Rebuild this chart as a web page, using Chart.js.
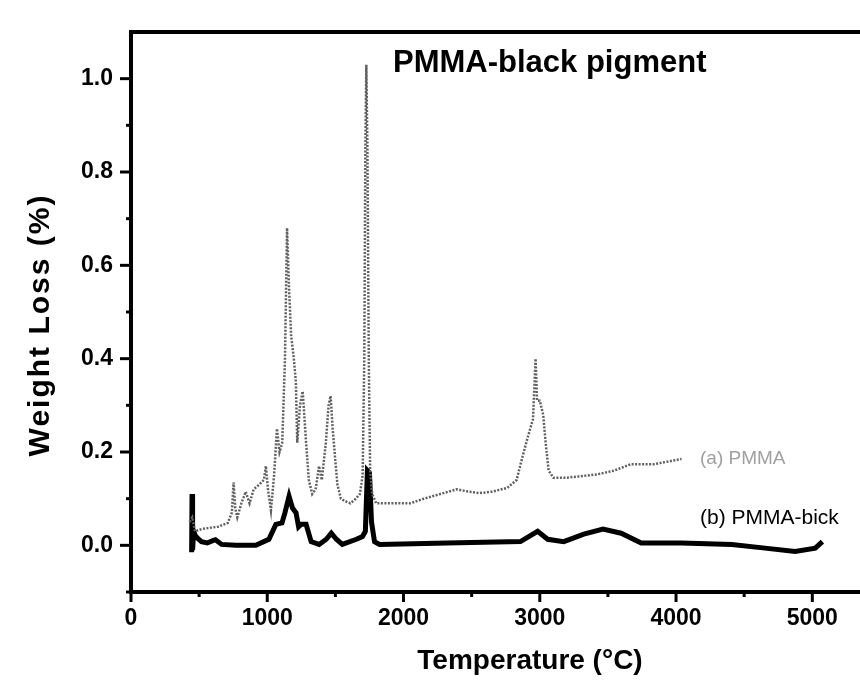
<!DOCTYPE html>
<html>
<head>
<meta charset="utf-8">
<script src="https://cdn.jsdelivr.net/npm/chart.js@4"></script>
<style>
    html, body { margin: 0; padding: 0; background: #fff; }
    #wrap { width: 860px; height: 681px; }
</style>
</head>
<body>
<div id="wrap"><canvas id="chart" width="860" height="681"></canvas></div>
<script>
// (a) PMMA - dotted trace
const tempA = [430, 450, 470, 520, 570, 640, 710, 740, 753, 765, 780, 810, 842, 870, 900, 940, 975, 990, 1005, 1027,
    1050, 1071, 1090, 1110, 1130, 1145, 1160, 1175, 1195, 1210, 1220, 1240, 1260, 1285, 1305, 1330, 1355, 1380, 1400,
    1430, 1450, 1465, 1480, 1500, 1515, 1540, 1570, 1610, 1650, 1680, 1700, 1712, 1720, 1727, 1735, 1745, 1755, 1770,
    1800, 1900, 2050, 2150, 2270, 2390, 2480, 2560, 2650, 2760, 2830, 2860, 2910, 2950, 2969, 2980, 3000, 3025, 3043,
    3065, 3100, 3200, 3300, 3420, 3545, 3670, 3840, 3950, 4040];
const lossA = [0.05, 0.06, 0.03, 0.035, 0.037, 0.04, 0.048, 0.07, 0.135, 0.08, 0.06, 0.09, 0.115, 0.09, 0.12, 0.13, 0.14, 0.17, 0.12, 0.075,
    0.15, 0.25, 0.20, 0.22, 0.40, 0.68, 0.55, 0.45, 0.40, 0.35, 0.22, 0.30, 0.33, 0.22, 0.14, 0.11, 0.12, 0.17, 0.14,
    0.22, 0.30, 0.32, 0.25, 0.18, 0.13, 0.10, 0.095, 0.09, 0.10, 0.11, 0.15, 0.40, 0.85, 1.03, 0.85, 0.40, 0.16, 0.11,
    0.09, 0.09, 0.09, 0.10, 0.11, 0.12, 0.115, 0.112, 0.115, 0.123, 0.14, 0.175, 0.23, 0.27, 0.40, 0.31, 0.31, 0.28, 0.22,
    0.16, 0.145, 0.145, 0.148, 0.152, 0.16, 0.174, 0.174, 0.18, 0.185];

// (b) PMMA-black - solid trace
const tempB = [445, 448, 452, 460, 473, 490, 517, 560, 600, 620, 665, 768, 916, 1012, 1063, 1108, 1130, 1160, 1185, 1211,
    1230, 1248, 1285, 1322, 1381, 1433, 1470, 1507, 1551, 1654, 1699, 1720, 1735, 1750, 1765, 1787, 1824, 2319, 2858,
    2984, 3058, 3176, 3323, 3464, 3597, 3744, 4040, 4409, 4653, 4874, 5022, 5074];
const lossB = [-0.015, 0.11, -0.01, 0.03, 0.02, 0.015, 0.008, 0.005, 0.01, 0.012, 0.002, 0.0, 0.0, 0.013, 0.045, 0.048, 0.07, 0.105, 0.08, 0.07,
    0.04, 0.045, 0.045, 0.008, 0.002, 0.013, 0.026, 0.013, 0.002, 0.013, 0.019, 0.03, 0.16, 0.155, 0.05, 0.008, 0.002, 0.005, 0.008,
    0.03, 0.013, 0.008, 0.024, 0.035, 0.026, 0.005, 0.005, 0.002, -0.006, -0.013, -0.006, 0.008];

const xTicks = [0, 1000, 2000, 3000, 4000, 5000];
const xMinor = [500, 1500, 2500, 3500, 4500];
const yTicks = [0.0, 0.2, 0.4, 0.6, 0.8, 1.0];
const yMinor = [-0.1, 0.1, 0.3, 0.5, 0.7, 0.9];

const FONT = "'Liberation Sans', Arial, sans-serif";

function toPoints(xs, ys) {
    return xs.map((x, i) => ({ x: x, y: ys[i] }));
}

// frame top line, tick marks and text labels
const decor = {
    id: 'decor',
    afterDraw(chart) {
        const ctx = chart.ctx;
        const { left, top, right, bottom } = chart.chartArea;
        const xs = chart.scales.x;
        const ys = chart.scales.y;
        ctx.save();
        ctx.strokeStyle = '#000';
        ctx.lineWidth = 4;
        ctx.beginPath();
        ctx.moveTo(left - 2, top);
        ctx.lineTo(right, top);
        ctx.stroke();

        ctx.lineWidth = 3;
        xTicks.forEach(v => {
            const p = xs.getPixelForValue(v);
            ctx.beginPath(); ctx.moveTo(p, bottom); ctx.lineTo(p, bottom + 10); ctx.stroke();
        });
        xMinor.forEach(v => {
            const p = xs.getPixelForValue(v);
            ctx.beginPath(); ctx.moveTo(p, bottom); ctx.lineTo(p, bottom + 5); ctx.stroke();
        });
        yTicks.forEach(v => {
            const p = ys.getPixelForValue(v);
            ctx.beginPath(); ctx.moveTo(left, p); ctx.lineTo(left - 11, p); ctx.stroke();
        });
        yMinor.forEach(v => {
            const p = ys.getPixelForValue(v);
            ctx.beginPath(); ctx.moveTo(left, p); ctx.lineTo(left - 5, p); ctx.stroke();
        });

        ctx.fillStyle = '#000';
        ctx.textBaseline = 'middle';
        ctx.font = 'bold 31px ' + FONT;
        ctx.textAlign = 'left';
        ctx.fillText('PMMA-black pigment', 393, 63);

        ctx.font = '21px ' + FONT;
        ctx.fillText('(b) PMMA-bick', 700, 518);
        ctx.fillStyle = '#a0a0a0';
        ctx.font = '19px ' + FONT;
        ctx.fillText('(a) PMMA', 700, 459);

        ctx.fillStyle = '#000';
        ctx.font = 'bold 28px ' + FONT;
        ctx.textAlign = 'center';
        ctx.fillText('Temperature (°C)', 530, 661);

        ctx.translate(41, 325);
        ctx.rotate(-Math.PI / 2);
        ctx.font = 'bold 30px ' + FONT;
        ctx.letterSpacing = '2px';
        ctx.fillText('Weight Loss (%)', 0, 0);
        ctx.restore();
    }
};

new Chart(document.getElementById('chart').getContext('2d'), {
    type: 'scatter',
    data: {
        datasets: [{
            label: '(a) PMMA',
            data: toPoints(tempA, lossA),
            showLine: true,
            borderColor: '#606060',
            borderWidth: 2.5,
            borderDash: [2, 1.5],
            pointRadius: 0,
            tension: 0
        }, {
            label: '(b) PMMA-black',
            data: toPoints(tempB, lossB),
            showLine: true,
            borderColor: '#000',
            borderWidth: 5,
            pointRadius: 0,
            tension: 0
        }]
    },
    options: {
        responsive: false,
        animation: false,
        layout: { padding: { top: 32, right: 0, left: 0, bottom: 0 } },
        plugins: {
            legend: { display: false },
            tooltip: { enabled: false }
        },
        scales: {
            x: {
                type: 'linear',
                min: 0,
                max: 5350,
                afterFit: s => { s.height = 89; },
                afterBuildTicks: s => { s.ticks = xTicks.map(v => ({ value: v })); },
                grid: { drawOnChartArea: false, drawTicks: false },
                border: { display: true, color: '#000', width: 4 },
                ticks: {
                    padding: 13,
                    color: '#000',
                    font: { family: FONT, size: 23, weight: 'bold' },
                    maxRotation: 0,
                    callback: v => String(v)
                }
            },
            y: {
                min: -0.1,
                max: 1.1,
                afterFit: s => { s.width = 131; },
                afterBuildTicks: s => { s.ticks = yTicks.map(v => ({ value: v })); },
                grid: { drawOnChartArea: false, drawTicks: false },
                border: { display: true, color: '#000', width: 4 },
                ticks: {
                    padding: 18,
                    color: '#000',
                    font: { family: FONT, size: 23, weight: 'bold' },
                    callback: v => v.toFixed(1)
                }
            }
        }
    },
    plugins: [decor]
});
</script>
</body>
</html>
